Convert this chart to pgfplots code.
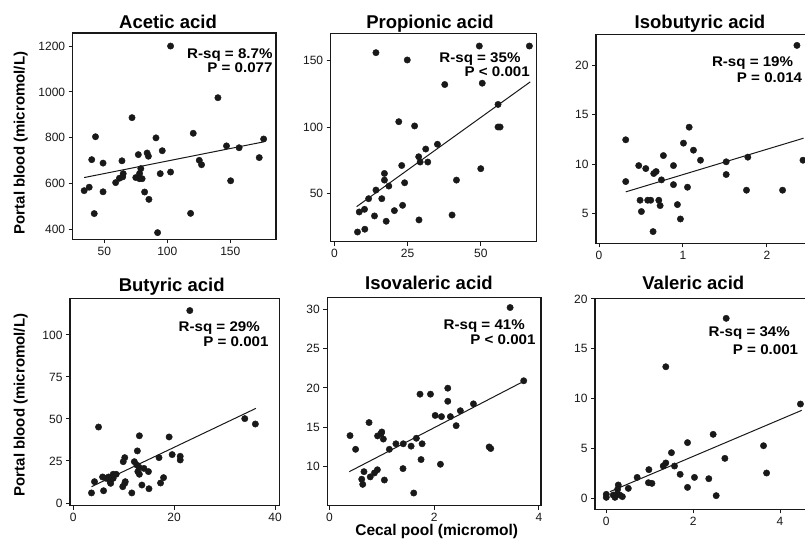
\documentclass[border=0pt]{standalone}
\usepackage{fontspec}
\setmainfont{Liberation Sans}
\newfontfamily\annfont[FakeStretch=1.08]{Liberation Sans}
\usepackage{pgfplots}
\pgfplotsset{compat=1.18}

\definecolor{ink}{RGB}{25,25,25}

\pgfplotsset{
  panel/.style={
    scale only axis, anchor=south west,
    axis line style={line width=1.3pt, ink},
    tick align=outside, xtick pos=left, ytick pos=left,
    major tick length=4pt, tick style={line width=1pt, ink},
    every tick label/.append style={font=\fontsize{12}{12}\selectfont, color=ink},
    /pgf/number format/assume math mode=true,
    /pgf/number format/1000 sep={},
    scaled ticks=false, minor tick num=0,
  },
  pts/.style={only marks, mark=*, mark size=3.2pt, mark options={fill=ink, draw=ink}},
  fit/.style={no marks, ink, line width=1pt},
}
\newcommand\ttl[1]{\fontsize{18.5}{18.5}\selectfont\bfseries #1}
\newcommand\ann[1]{\annfont\fontsize{14}{14}\selectfont\bfseries #1}

\begin{document}
\begin{tikzpicture}
\useasboundingbox (0pt,0pt) rectangle (805pt,540pt);
\clip (0pt,0pt) rectangle (805pt,540pt);
\fill[white] (0pt,0pt) rectangle (805pt,540pt);

% Acetic acid
\begin{axis}[panel, at={(72.7pt,300.7pt)}, width=203.3pt, height=206.3pt,
  xmin=24.9, xmax=186.3, ymin=358, ymax=1257,
  xtick={50,100,150}, ytick={400,600,800,1000,1200}]
\addplot[pts] coordinates {
(34,570)(38,585)(40,705)(43,805)(42,470)(49,690)(49,565)(59,605)(62,624)(64,700)
(65,644)(64.6,630)(72,888)(75,627)(78,645)(77,727)(79,666)(78,622)(80,622)(82,564)
(84,734)(85,720)(85.4,532)(91,800)(92.3,387)(94.4,644)(96,744)(102.6,1200)(102.6,651)
(118.5,471)(120.6,820)(125.4,702)(127.2,683)(140.2,975)(147,765)(150.3,613)(157,757)
(173,714)(176.5,795)};
\addplot[fit] coordinates {(34,627)(176,782)};
\end{axis}

% Propionic acid
\begin{axis}[panel, at={(330.7pt,298.3pt)}, width=206pt, height=208.4pt,
  xmin=-1.25, xmax=69.1, ymin=13.6, ymax=170.6,
  xtick={0,25,50}, ytick={50,100,150}]
\addplot[pts] coordinates {
(7.9,20.9)(8.5,36)(10.3,38)(10.4,23)(11.7,46)(13.7,33)(14.2,52.5)(14.2,156)(16.2,46)
(17.1,65)(17.1,60)(17.7,29)(18.6,55.5)(20.5,37)(22,104)(23,71)(23.3,41)(24,58)
(24.9,150.5)(27.4,100.8)(28.9,30)(28.8,77.6)(29.3,73.6)(31.2,83.4)(31.9,73.6)(35.2,87)
(37.7,132)(40.2,33.7)(41.7,60)(49.5,161)(50,68.6)(50.5,133)(55.9,117)(55.9,100)
(56.6,100)(66.6,161)};
\addplot[fit] coordinates {(7.6,40)(66.9,134)};
\end{axis}

% Isobutyric acid
\begin{axis}[panel, at={(596pt,296.7pt)}, width=212pt, height=209pt,
  xmin=-0.036, xmax=2.49, ymin=2.04, ymax=23.1,
  xtick={0,1,2}, ytick={5,10,15,20}]
\addplot[pts] coordinates {
(0.318,12.47)(0.318,8.26)(0.473,9.87)(0.489,6.38)(0.505,5.24)(0.557,9.57)(0.58,6.38)
(0.616,6.38)(0.644,3.22)(0.652,9.07)(0.68,9.27)(0.712,6.38)(0.728,5.84)(0.744,8.43)
(0.767,10.88)(0.887,9.87)(0.887,7.95)(0.934,5.94)(0.97,4.49)(1.006,12.13)(1.054,7.69)
(1.074,13.74)(1.125,11.42)(1.209,10.41)(1.515,10.25)(1.515,8.97)(1.757,7.39)(1.773,10.72)
(2.187,7.39)(2.358,21.98)(2.43,10.41)};
\addplot[fit] coordinates {(0.318,7.22)(2.437,12.63)};
\end{axis}

% Butyric acid
\begin{axis}[panel, at={(70pt,34.3pt)}, width=209.3pt, height=207.4pt,
  xmin=-0.66, xmax=40.85, ymin=-1.6, ymax=121.8,
  xtick={0,20,40}, ytick={0,25,50,75,100}]
\addplot[pts] coordinates {
(23.1,114.5)(5,45.2)(3.6,6)(4.2,12.7)(5.8,15.5)(6,7.3)(6.5,14.7)(7,15.5)(7.3,12.7)
(7.7,15.1)(7.9,17.1)(7.4,11.7)(8.5,17.1)(7.9,14.7)(9.8,9.7)(10.2,11.7)(9.9,24.6)
(10.2,27)(10.3,12.7)(11.6,6)(12.1,24.6)(12.7,31)(12.6,22.6)(12.8,18.7)(13.1,17.1)
(13.1,40)(13,21.4)(13.6,10.7)(14,20.6)(14.9,18.7)(15,8.5)(17,27)(17.3,11.9)(17.9,15.1)
(19,39.3)(19.6,28.8)(21.2,27.8)(21.2,25.6)(34,50.2)(36.1,47)};
\addplot[fit] coordinates {(3.6,9.7)(36.2,56.3)};
\end{axis}

% Isovaleric acid
\begin{axis}[panel, at={(327.3pt,34.3pt)}, width=213.7pt, height=208.4pt,
  xmin=-0.04, xmax=4.04, ymin=5.04, ymax=31.5,
  xtick={0,2,4}, ytick={10,15,20,25,30}]
\addplot[pts] coordinates {
(3.45,30.2)(0.394,13.94)(0.5,12.2)(0.66,9.36)(0.617,8.4)(0.636,7.75)(0.757,15.6)(0.78,8.7)
(0.86,9.2)(0.916,9.6)(0.92,13.9)(0.986,14.2)(1,14.4)(1.03,13.5)(1.05,8.3)(1.145,12.2)
(1.27,12.9)(1.41,12.9)(1.405,9.75)(1.56,12.6)(1.61,6.65)(1.66,13.6)(1.73,19.2)(1.75,10.9)
(1.77,12.9)(1.93,19.2)(2.02,16.5)(2.12,10.3)(2.14,16.35)(2.26,19.96)(2.26,18.3)
(2.31,16.35)(2.42,15.2)(2.5,17.1)(2.75,17.97)(3.05,12.5)(3.08,12.3)(3.71,20.9)};
\addplot[fit] coordinates {(0.38,9.36)(3.7,20.8)};
\end{axis}

% Valeric acid
\begin{axis}[panel, at={(595pt,30.7pt)}, width=215pt, height=211pt,
  xmin=-0.26, xmax=4.69, ymin=-1.1, ymax=20.07,
  xtick={0,2,4}, ytick={0,5,10,15,20}]
\addplot[pts] coordinates {
(2.76,18.06)(1.37,13.2)(4.47,9.46)(2.46,6.42)(3.62,5.28)(2.73,4.01)(3.69,2.54)(1.87,5.59)
(1.5,4.58)(1.57,3.24)(1.31,3.24)(1.37,3.55)(1.7,2.41)(0.98,2.88)(0.97,1.57)(1.05,1.5)
(0.71,2.1)(0.507,1)(1.87,1.1)(2.03,2.1)(2.36,1.97)(2.53,0.27)(0.276,1.34)(0.26,0.9)
(0.24,0.4)(0.2,0.1)(0.37,0.17)(0,0.4)(0,0.1)(0.16,0.33)(0.31,0.33)};
\addplot[fit] coordinates {(0.084,0.67)(4.5,8.83)};
\end{axis}

\begin{scope}[x=1pt,y=1pt]
% titles
\node[anchor=base] at (168,511) {\ttl{Acetic acid}};
\node[anchor=base] at (430,511.7) {\ttl{Propionic acid}};
\node[anchor=base] at (700,511.7) {\ttl{Isobutyric acid}};
\node[anchor=base] at (171.7,248.3) {\ttl{Butyric acid}};
\node[anchor=base] at (429,250) {\ttl{Isovaleric acid}};
\node[anchor=base] at (693.3,250) {\ttl{Valeric acid}};

% statistics
\node[anchor=base east, inner sep=0] at (272.7,481.7) {\ann{R-sq = 8.7\%}};
\node[anchor=base east, inner sep=0] at (272.7,467.3) {\ann{P = 0.077}};
\node[anchor=base east, inner sep=0] at (520.7,477.6) {\ann{R-sq = 35\%}};
\node[anchor=base east, inner sep=0] at (530,463.3) {\ann{P < 0.001}};
\node[anchor=base east, inner sep=0] at (793.3,473.6) {\ann{R-sq = 19\%}};
\node[anchor=base east, inner sep=0] at (802.3,457) {\ann{P = 0.014}};
\node[anchor=base east, inner sep=0] at (260,208.6) {\ann{R-sq = 29\%}};
\node[anchor=base east, inner sep=0] at (268.7,193) {\ann{P = 0.001}};
\node[anchor=base east, inner sep=0] at (525,210.3) {\ann{R-sq = 41\%}};
\node[anchor=base east, inner sep=0] at (535.7,195.3) {\ann{P < 0.001}};
\node[anchor=base east, inner sep=0] at (790,203.6) {\ann{R-sq = 34\%}};
\node[anchor=base east, inner sep=0] at (798.3,185.3) {\ann{P = 0.001}};

% axis labels
\node[rotate=90, inner sep=0] at (20.7,397) {\fontsize{15}{15}\selectfont\bfseries Portal blood (micromol/L)};
\node[rotate=90, inner sep=0] at (20.7,135) {\fontsize{15}{15}\selectfont\bfseries Portal blood (micromol/L)};
\node[inner sep=0] at (436.7,8.5) {\fontsize{15.5}{15.5}\selectfont\bfseries Cecal pool (micromol)};
\end{scope}
\end{tikzpicture}
\end{document}
